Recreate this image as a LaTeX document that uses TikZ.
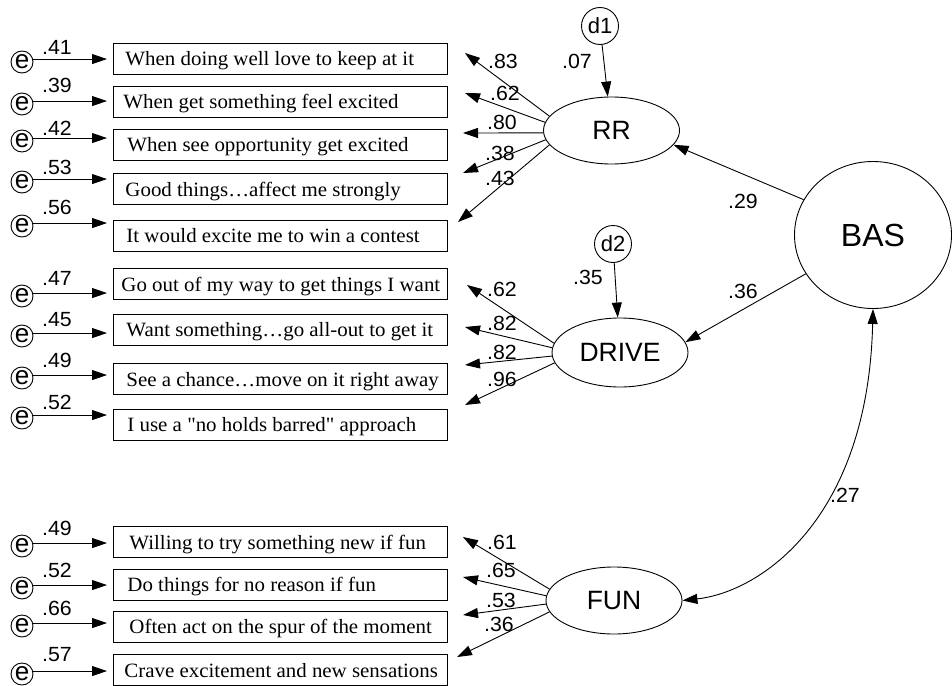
\documentclass[tikz,border=0pt]{standalone}
\usepackage{fontspec}
\setmainfont[FakeStretch=1.03,Ligatures=TeXOff]{Liberation Serif}
\newfontfamily\labfont[FakeStretch=1.04]{Liberation Sans}
\newfontfamily\bigfont{Liberation Sans}
\usetikzlibrary{arrows.meta,shapes.geometric}
\newcommand{\bt}[2]{\makebox[326pt][l]{\hspace*{#1pt}#2}}
\begin{document}
\begin{tikzpicture}[x=1pt,y=-1pt,
  line width=0.9pt,
  arr/.style={-{Triangle[length=15pt,width=10pt]}},
  dbl/.style={{Triangle[length=15pt,width=10pt]}-{Triangle[length=15pt,width=10pt]}},
  itembox/.style={draw,anchor=west,inner xsep=4pt,inner ysep=0pt,minimum height=31pt,text height=17pt,text depth=3pt,font=\fontsize{20.3}{22}\selectfont},
  errc/.style={circle,draw,inner sep=0pt,minimum size=22pt,font=\bigfont\fontsize{26}{26}\selectfont},
  dist/.style={circle,draw,inner sep=0pt,minimum size=37pt,font=\bigfont\fontsize{22}{22}\selectfont},
  latent/.style={ellipse,draw,inner sep=0pt,minimum width=136pt,minimum height=67pt,font=\bigfont\fontsize{26.5}{26.5}\selectfont},
  lbl/.style={inner sep=0pt,font=\labfont\fontsize{20.5}{20.5}\selectfont}
]
\useasboundingbox (0,0) rectangle (952,685);

% item boxes
\node[itembox] (b1)  at (113,58.5)  {\bt{8}{When doing well love to keep at it}};
\node[itembox] (b2)  at (113,101.5) {\bt{6}{When get something feel excited}};
\node[itembox] (b3)  at (113,144.5) {\bt{10}{When see opportunity get excited}};
\node[itembox] (b4)  at (113,189)   {\bt{8}{Good things…affect me strongly}};
\node[itembox] (b5)  at (113,235.5) {\bt{9}{It would excite me to win a contest}};
\node[itembox] (b6)  at (113,284)   {\bt{4}{Go out of my way to get things I want}};
\node[itembox] (b7)  at (113,329.5) {\bt{9}{Want something…go all-out to get it}};
\node[itembox] (b8)  at (113,379)   {\bt{9}{See a chance…move on it right away}};
\node[itembox] (b9)  at (113,424.5) {\bt{10}{I use a "no holds barred" approach}};
\node[itembox] (b10) at (113,542)   {\bt{12}{Willing to try something new if fun}};
\node[itembox] (b11) at (113,584.5) {\bt{10}{Do things for no reason if fun}};
\node[itembox] (b12) at (113,626.5) {\bt{12}{Often act on the spur of the moment}};
\node[itembox] (b13) at (113,670)   {\bt{7}{Crave excitement and new sensations}};

% error terms
\foreach \i/\ay/\ly/\v in {1/59/47/.41, 2/101/85/.39, 3/138/128/.42, 4/179/167/.53, 5/223/207/.56,
  6/293/278/.47, 7/333/320/.45, 8/375/360/.49, 9/415/402/.52,
  10/543/528/.49, 11/585/570/.52, 12/623/608/.66, 13/671/655/.57}{
  \node[errc] (e\i) at (22,\ay+3) {e};
  \node[lbl] (el\i) at (57,\ly) {\v};
  \draw[arr,shorten >=6pt] (e\i.15) -- (e\i.15 -| b\i.west);
}

% latent variables
\node[latent] (RR) at (611.5,130.5) {RR};
\node[latent,minimum height=69pt] (DRIVE) at (620,352.5) {DRIVE};
\node[latent] (FUN) at (614,600.5) {FUN};
\node[ellipse,draw,inner sep=0pt,minimum width=157pt,minimum height=147pt,font=\bigfont\fontsize{32}{32}\selectfont] (BAS) at (873,235) {BAS};
\node[dist] (d1) at (600,26) {d1};
\node[dist] (d2) at (613,244) {d2};

% disturbances
\draw[arr] (d1) -- (RR);
\node[lbl] (l07) at (577,61) {.07};
\draw[arr] (d2) -- (DRIVE);
\node[lbl] (l35) at (588,277) {.35};

% structural paths
\draw[arr] (BAS.153) -- (RR.-13);
\node[lbl] (l29) at (743,201) {.29};
\draw[arr] (BAS.210) -- (DRIVE.9);
\node[lbl] (l36s) at (743,291) {.36};
\draw[dbl] (BAS.south) .. controls (868,520) and (760,592) .. (FUN.east);
\node[lbl] (l27) at (845,495) {.27};

% loadings RR
\coordinate (t1) at (465,53);
\coordinate (t2) at (465,93);
\coordinate (t3) at (463,133);
\coordinate (t4) at (463,173);
\coordinate (t5) at (458,222);
\draw[arr] (RR.167) -- (t1);
\draw[arr] (RR.173) -- (t2);
\draw[arr] (RR.182) -- (t3);
\draw[arr] (RR.188) -- (t4);
\draw[arr] (RR.193) -- (t5);
\node[lbl] (r1) at (503,61) {.83};
\node[lbl] (r2) at (505,93) {.62};
\node[lbl] (r3) at (502,122.5) {.80};
\node[lbl] (r4) at (500,153) {.38};
\node[lbl] (r5) at (500,178) {.43};

% loadings DRIVE
\coordinate (t6) at (467,285);
\coordinate (t7) at (465,327);
\coordinate (t8) at (465,365);
\coordinate (t9) at (465,405);
\draw[arr] (DRIVE.172) -- (t6);
\draw[arr] (DRIVE.176) -- (t7);
\draw[arr] (DRIVE.183) -- (t8);
\draw[arr] (DRIVE.189) -- (t9);
\node[lbl] (dr1) at (502,289) {.62};
\node[lbl] (dr2) at (502,323) {.82};
\node[lbl] (dr3) at (502,352) {.82};
\node[lbl] (dr4) at (502,379) {.96};

% loadings FUN
\coordinate (t10) at (463,537);
\coordinate (t11) at (463,577);
\coordinate (t12) at (463,615);
\coordinate (t13) at (457,657);
\draw[arr] (FUN.170) -- (t10);
\draw[arr] (FUN.176) -- (t11);
\draw[arr] (FUN.183) -- (t12);
\draw[arr] (FUN.190) -- (t13);
\node[lbl] (f1) at (502,542) {.61};
\node[lbl] (f2) at (501,570) {.65};
\node[lbl] (f3) at (501,600) {.53};
\node[lbl] (f4) at (499,624) {.36};
\end{tikzpicture}
\end{document}
